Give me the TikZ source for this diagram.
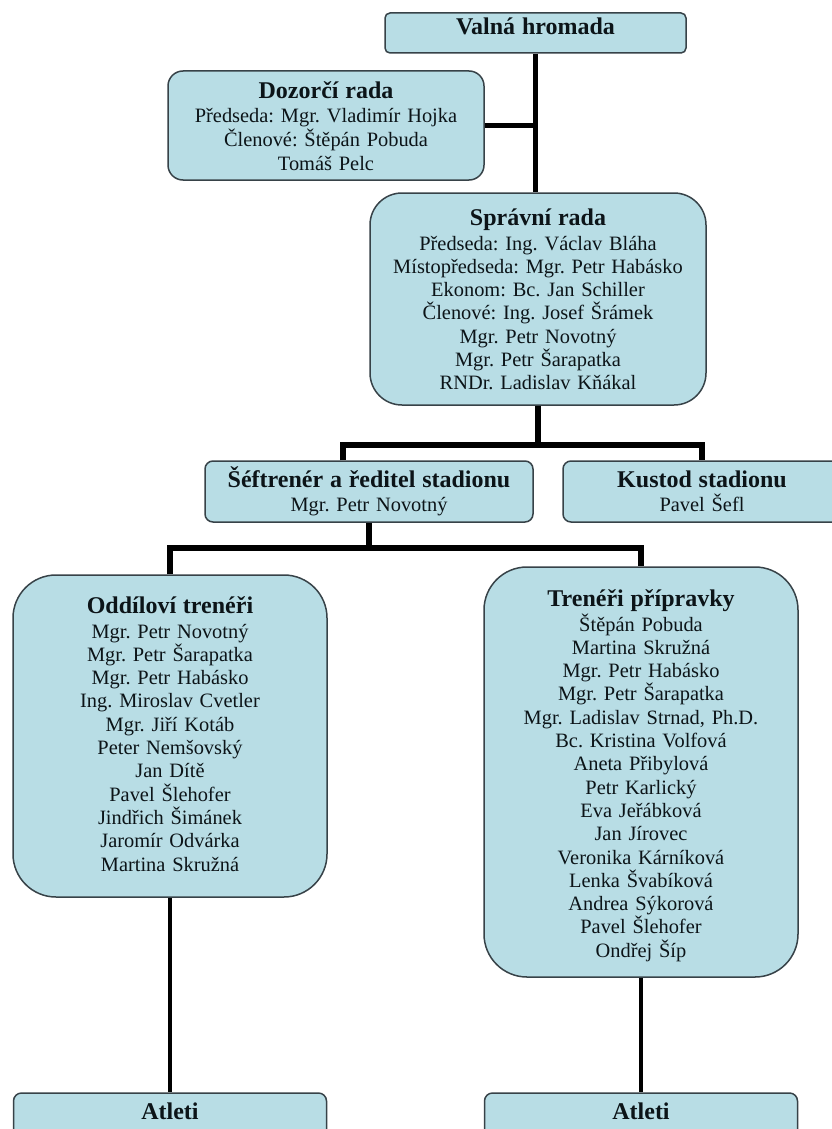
\documentclass[tikz,border=0pt]{standalone}
\usepackage{fontspec}
\setmainfont{Liberation Serif}
\usetikzlibrary{calc}
\frenchspacing
\definecolor{boxfill}{RGB}{184,221,229}
\definecolor{boxline}{RGB}{55,66,72}
\definecolor{txt}{RGB}{12,20,24}
\newcommand\regfont{\frenchspacing\fontsize{20.4}{23.3}\selectfont}
\newcommand\ttl[1]{{\fontsize{24}{26}\selectfont\bfseries #1}}
\begin{document}
\begin{tikzpicture}[x=1pt,y=-1pt,
  orgbox/.style={draw=boxline, line width=1.5pt, fill=boxfill, inner sep=0pt, rounded corners=#1},
  txtblock/.style={text=txt, align=center, text width=340pt, inner sep=0pt, anchor=base, font=\regfont},
  conn/.style={line width=5.5pt, draw=black},
  connthin/.style={line width=4pt, draw=black}]
\fill[white] (0,0) rectangle (831,1129);
\useasboundingbox (0,0) rectangle (831,1129);

% boxes
\node[orgbox=5pt,  minimum width=301pt, minimum height=40pt]  (valna)   at (535.5,33) {};
\node[orgbox=15pt, minimum width=316pt, minimum height=109pt] (dozorci) at (326,125.5) {};
\node[orgbox=32pt, minimum width=336pt, minimum height=212pt] (spravni) at (538,299) {};
\node[orgbox=8pt,  minimum width=328pt, minimum height=61pt]  (sef)     at (369,491.5) {};
\node[orgbox=8pt,  minimum width=278pt, minimum height=61pt]  (kustod)  at (702,491.5) {};
\node[orgbox=43pt, minimum width=314pt, minimum height=322pt] (oddil)   at (170,736) {};
\node[orgbox=43pt, minimum width=314pt, minimum height=410pt] (treneri) at (641,772) {};
\node[orgbox=8pt,  minimum width=313pt, minimum height=66pt]  (atl1)    at (170,1126) {};
\node[orgbox=8pt,  minimum width=313pt, minimum height=66pt]  (atl2)    at (641,1126) {};

% texts
\node[txtblock] (valnaT) at (535.5,35) {\ttl{Valná hromada}};
\node[txtblock, font=\frenchspacing\fontsize{20.4}{24}\selectfont] (dozorciT) at (326,99)
  {\ttl{Dozorčí rada}\\ Předseda: Mgr. Vladimír Hojka\\ Členové: Štěpán Pobuda\\ Tomáš Pelc};
\node[txtblock] (spravniT) at (538,225)
  {\ttl{Správní rada}\\[1.7pt] Předseda: Ing. Václav Bláha\\ Místopředseda: Mgr. Petr Habásko\\
   Ekonom: Bc. Jan Schiller\\ Členové: Ing. Josef Šrámek\\ Mgr. Petr Novotný\\
   Mgr. Petr Šarapatka\\ RNDr. Ladislav Kňákal};
\node[txtblock] (sefT) at (369,487)
  {\ttl{Šéftrenér a ředitel stadionu}\\[0.7pt] Mgr. Petr Novotný};
\node[txtblock] (kustodT) at (702,487)
  {\ttl{Kustod stadionu}\\[0.7pt] Pavel Šefl};
\node[txtblock] (oddilT) at (170,613)
  {\ttl{Oddíloví trenéři}\\[1.7pt] Mgr. Petr Novotný\\ Mgr. Petr Šarapatka\\ Mgr. Petr Habásko\\
   Ing. Miroslav Cvetler\\ Mgr. Jiří Kotáb\\ Peter Nemšovský\\ Jan Dítě\\ Pavel Šlehofer\\
   Jindřich Šimánek\\ Jaromír Odvárka\\ Martina Skružná};
\node[txtblock] (treneriT) at (641,606)
  {\ttl{Trenéři přípravky}\\[1.7pt] Štěpán Pobuda\\ Martina Skružná\\ Mgr. Petr Habásko\\
   Mgr. Petr Šarapatka\\ Mgr. Ladislav Strnad, Ph.D.\\ Bc. Kristina Volfová\\ Aneta Přibylová\\
   Petr Karlický\\ Eva Jeřábková\\ Jan Jírovec\\ Veronika Kárníková\\ Lenka Švabíková\\
   Andrea Sýkorová\\ Pavel Šlehofer\\ Ondřej Šíp};
\node[txtblock] (atl1T) at (170,1119) {\ttl{Atleti}};
\node[txtblock] (atl2T) at (641,1119) {\ttl{Atleti}};

% connectors
\coordinate (bus1) at (538,445);
\coordinate (bus2) at (369,548);
\draw[conn] (valna.south) -- (valna.south |- spravni.north);
\draw[conn] (dozorci.east) -- (dozorci.east -| valna.south);
\draw[conn] (spravni.south) -- (bus1);
\draw[conn] ([xshift=-26pt]sef.north) |- (bus1) -| (kustod.north);
\draw[conn] (sef.south) -- (bus2);
\draw[conn] (oddil.north) |- (bus2) -| (treneri.north);
\draw[connthin] (oddil.south) -- (atl1.north);
\draw[connthin] (treneri.south) -- (atl2.north);
\end{tikzpicture}
\end{document}
